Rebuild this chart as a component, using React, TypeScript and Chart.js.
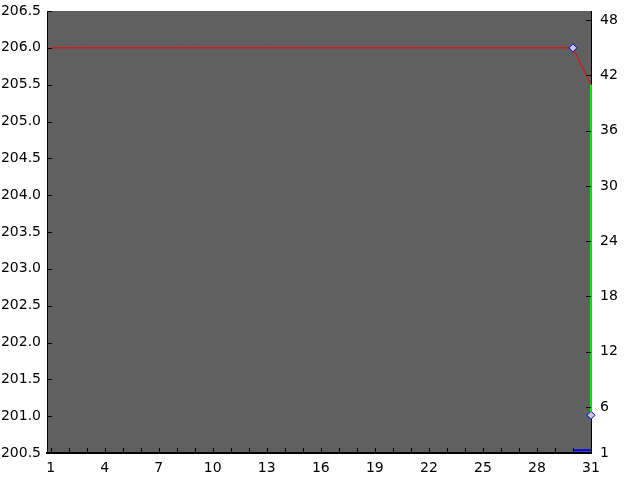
import React, { useEffect, useRef } from 'react';
import { Chart, registerables } from 'chart.js';

Chart.register(...registerables);

// day numbers along the bottom axis
const days = [1, 2, 3, 4, 5, 6, 7, 8, 9, 10, 11, 12, 13, 14, 15, 16, 17, 18, 19, 20, 21, 22, 23, 24, 25, 26, 27, 28, 29, 30, 31];
// red series, left axis
const redValues = [206, 206, 206, 206, 206, 206, 206, 206, 206, 206, 206, 206, 206, 206, 206, 206, 206, 206, 206, 206, 206, 206, 206, 206, 206, 206, 206, 206, 206, 206, 205.5];
// green series, right axis
const greenDays = [31, 31];
const greenValues = [41, 5.5];
// blue diamond marker, right axis
const markerDays = [31];
const markerValues = [5.1];
// blue base line, right axis
const blueDays = [30, 31];
const blueValues = [1.3, 1.3];

const xLabelDays = [1, 4, 7, 10, 13, 16, 19, 22, 25, 28, 31];
const rightTicks = [1, 6, 12, 18, 24, 30, 36, 42, 48];

const FONT = { family: 'DejaVu Sans', size: 14 };
const HIDDEN = 'rgba(0,0,0,0)';

const plotBackground = {
    id: 'plotBackground',
    beforeDraw(chart: any) {
        const { ctx, chartArea } = chart;
        ctx.save();
        ctx.fillStyle = '#606060';
        ctx.fillRect(chartArea.left, chartArea.top, chartArea.right - chartArea.left, chartArea.bottom - chartArea.top);
        ctx.restore();
    },
};

// tick marks point into the plot, so draw them ourselves
const inwardTicks = {
    id: 'inwardTicks',
    afterDraw(chart: any) {
        const { ctx, chartArea } = chart;
        const len = 5;
        ctx.save();
        ctx.strokeStyle = '#000000';
        ctx.lineWidth = 1;
        ctx.beginPath();
        chart.scales.x.ticks.forEach((t: any) => {
            const px = Math.round(chart.scales.x.getPixelForValue(t.value)) + 0.5;
            ctx.moveTo(px, chartArea.bottom);
            ctx.lineTo(px, chartArea.bottom - len);
        });
        chart.scales.y.ticks.forEach((t: any) => {
            const py = Math.round(chart.scales.y.getPixelForValue(t.value)) + 0.5;
            ctx.moveTo(chartArea.left, py);
            ctx.lineTo(chartArea.left + len, py);
        });
        chart.scales.y1.ticks.forEach((t: any) => {
            const py = Math.round(chart.scales.y1.getPixelForValue(t.value)) + 0.5;
            ctx.moveTo(chartArea.right, py);
            ctx.lineTo(chartArea.right - len, py);
        });
        ctx.stroke();
        ctx.restore();
    },
};

const App: React.FC = () => {
    const chartRef = useRef<HTMLCanvasElement | null>(null);

    useEffect(() => {
        document.body.style.margin = '0';
        const ctx = chartRef.current?.getContext('2d');
        if (!ctx) {
            return;
        }

        const myChart = new Chart(ctx, {
            type: 'line',
            data: {
                datasets: [
                    {
                        label: 'red',
                        data: days.map((d, i) => ({ x: d, y: redValues[i] })),
                        yAxisID: 'y',
                        borderColor: '#ff0000',
                        borderWidth: 1,
                        pointStyle: 'rectRot',
                        pointRadius: days.map((d) => (d === 30 ? 4 : 0)),
                        pointBackgroundColor: '#c8c8c8',
                        pointBorderColor: '#0000ff',
                        pointBorderWidth: 1,
                        tension: 0,
                    },
                    {
                        label: 'green',
                        data: greenDays.map((d, i) => ({ x: d, y: greenValues[i] })),
                        yAxisID: 'y1',
                        borderColor: '#00ff00',
                        borderWidth: 1,
                        pointRadius: 0,
                        clip: false,
                    },
                    {
                        label: 'blue',
                        data: blueDays.map((d, i) => ({ x: d, y: blueValues[i] })),
                        yAxisID: 'y1',
                        borderColor: '#0000ff',
                        borderWidth: 2,
                        pointRadius: 0,
                    },
                    {
                        label: 'marker',
                        data: markerDays.map((d, i) => ({ x: d, y: markerValues[i] })),
                        yAxisID: 'y1',
                        showLine: false,
                        pointStyle: 'rectRot',
                        pointRadius: 4,
                        pointBackgroundColor: '#c8c8c8',
                        pointBorderColor: '#0000ff',
                        pointBorderWidth: 1,
                        clip: false,
                    },
                ],
            },
            plugins: [plotBackground, inwardTicks],
            options: {
                animation: false,
                responsive: false,
                layout: { padding: { top: 11, left: 0, right: 0, bottom: 0 } },
                plugins: {
                    legend: { display: false },
                    tooltip: { enabled: false },
                },
                scales: {
                    x: {
                        type: 'linear',
                        min: 0.8,
                        max: 31,
                        afterBuildTicks: (scale: any) => {
                            scale.ticks = days.map((d) => ({ value: d }));
                        },
                        afterFit: (scale: any) => {
                            scale.height = 27;
                        },
                        grid: { display: true, drawOnChartArea: false, drawTicks: true, tickLength: 7, tickColor: HIDDEN },
                        border: { display: true, color: '#000000', width: 2 },
                        ticks: {
                            autoSkip: false,
                            maxRotation: 0,
                            padding: 0,
                            color: '#000000',
                            font: FONT,
                            callback: (v: any) => (xLabelDays.includes(Number(v)) ? String(v) : ''),
                        },
                    },
                    y: {
                        type: 'linear',
                        position: 'left',
                        min: 200.5,
                        max: 206.5,
                        afterFit: (scale: any) => {
                            scale.width = 47;
                        },
                        grid: { display: true, drawOnChartArea: false, drawTicks: true, tickLength: 6, tickColor: HIDDEN },
                        border: { display: true, color: '#000000', width: 1 },
                        ticks: {
                            stepSize: 0.5,
                            padding: 0,
                            color: '#000000',
                            font: FONT,
                            callback: (v: any) => Number(v).toFixed(1),
                        },
                    },
                    y1: {
                        type: 'linear',
                        position: 'right',
                        min: 1,
                        max: 49,
                        afterBuildTicks: (scale: any) => {
                            scale.ticks = rightTicks.map((v) => ({ value: v }));
                        },
                        afterFit: (scale: any) => {
                            scale.width = 49;
                        },
                        grid: { display: true, drawOnChartArea: false, drawTicks: true, tickLength: 9, tickColor: HIDDEN },
                        border: { display: true, color: '#000000', width: 1 },
                        ticks: {
                            padding: 0,
                            color: '#000000',
                            font: FONT,
                        },
                    },
                },
            },
        });

        return () => {
            myChart.destroy();
        };
    }, []);

    return (
        <div style={{ width: 640, height: 480 }}>
            <canvas ref={chartRef} width={640} height={480} />
        </div>
    );
};

export default App;
